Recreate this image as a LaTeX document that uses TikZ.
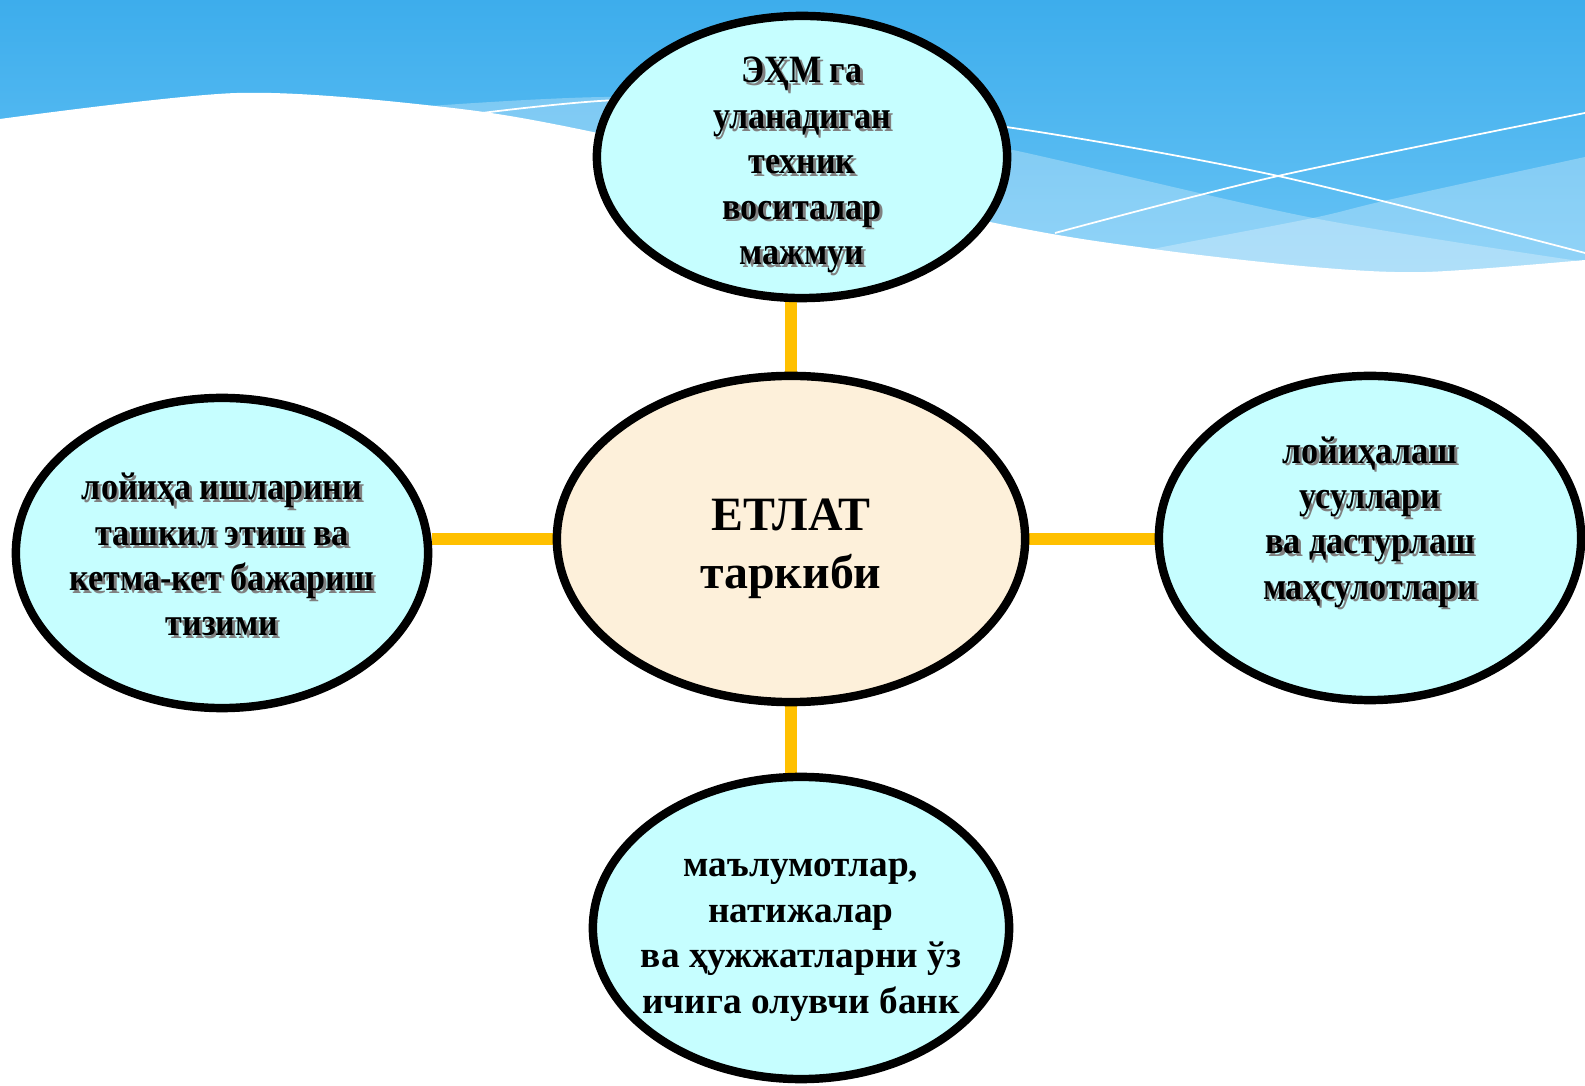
\documentclass[tikz,border=0pt]{standalone}
\usepackage{fontspec}
\setmainfont{Liberation Serif}
\newfontfamily\narrowserif[FakeStretch=0.88]{Liberation Serif}
\usetikzlibrary{shapes.geometric}

\definecolor{skytop}{HTML}{3DADEC}
\definecolor{skybot}{HTML}{6CC6F6}
\definecolor{partfill}{HTML}{C6FEFF}
\definecolor{hubfill}{HTML}{FDF0DA}
\definecolor{linkcol}{HTML}{FFC000}

\pgfdeclarelayer{sky}
\pgfdeclarelayer{links}
\pgfsetlayers{sky,links,main}

% centred lines, no size of their own, lifted by #1
\newcommand\pltext[2]{\makebox[0pt]{\raisebox{#1}[0pt][0pt]{\begin{tabular}{@{}c@{}}#2\end{tabular}}}}
% the same, with a soft grey shadow
\newcommand\shtext[2]{\makebox[0pt]{\raisebox{#1}[0pt][0pt]{%
  \makebox[0pt][l]{\hspace{0.8pt}\raisebox{-0.8pt}{\color{black!50}\begin{tabular}{@{}c@{}}#2\end{tabular}}}%
  \begin{tabular}{@{}c@{}}#2\end{tabular}}}}

\tikzset{
  partbox/.style={ellipse,draw=black,line width=2.4pt,fill=partfill,inner sep=0pt,
    font=\narrowserif\bfseries\fontsize{11}{12.9}\selectfont},
  hubbox/.style={partbox,fill=hubfill,minimum width=4.68cm,minimum height=3.26cm,
    font=\bfseries\fontsize{13.6}{16.5}\selectfont},
  link/.style={linkcol,line width=3.4pt}
}

\begin{document}
\begin{tikzpicture}[x=0.01cm,y=-0.01cm]
\useasboundingbox (0,0) rectangle (1585,1086);

% sky and waves
\begin{pgfonlayer}{sky}
\fill[top color=skytop,bottom color=skybot] (0,0) rectangle (1585,300);
\fill[white,opacity=0.28] plot[smooth] coordinates {(430,106) (620,97) (820,112) (1013,150) (1313,218) (1585,262)}
  -- (1585,300) -- (430,300) -- cycle;
\fill[white,opacity=0.28] plot[smooth] coordinates {(1100,262) (1153,249) (1313,218) (1388,200) (1585,157)}
  -- (1585,300) -- (1100,300) -- cycle;
\draw[white,line width=0.5pt] plot[smooth] coordinates {(482,113) (620,100) (800,105) (1013,128) (1278,176) (1585,253)};
\draw[white,line width=0.5pt] plot[smooth] coordinates {(1055,233) (1278,176) (1585,113)};
\fill[white] plot[smooth] coordinates {(0,119) (237,93) (435,106) (593,132) (990,222) (1153,249) (1313,267) (1426,272) (1585,260)}
  -- (1585,1086) -- (0,1086) -- cycle;
\end{pgfonlayer}

% nodes
\node[hubbox] (etlat) at (791,539) {\pltext{-6.2pt}{ЕТЛАТ\\таркиби}};
\node[partbox,minimum width=4.10cm,minimum height=2.82cm] (ehm) at (802,157)
  {\shtext{-4.9pt}{ЭҲМ га\\уланадиган\\техник\\воситалар\\мажмуи}};
\node[partbox,minimum width=4.12cm,minimum height=3.10cm] (org) at (222,553)
  {\shtext{-4.4pt}{лойиҳа ишларини\\ташкил этиш ва\\кетма-кет бажариш\\тизими}};
\node[partbox,minimum width=4.22cm,minimum height=3.24cm] (meth) at (1370,538)
  {\shtext{1.8pt}{лойиҳалаш\\усуллари\\ва дастурлаш\\маҳсулотлари}};
\node[partbox,minimum width=4.16cm,minimum height=3.02cm,
  font=\bfseries\fontsize{10.6}{12.9}\selectfont] (bank) at (801,928)
  {\pltext{-5pt}{маълумотлар,\\натижалар\\ва ҳужжатларни ўз\\ичига олувчи банк}};

% links
\begin{pgfonlayer}{links}
\draw[link] (etlat.north) -- (etlat.north |- ehm.south);
\draw[link] (etlat.south) -- (etlat.south |- bank.north);
\draw[link] (etlat.west) -- (etlat.west -| org.east);
\draw[link] (etlat.east) -- (etlat.east -| meth.west);
\end{pgfonlayer}
\end{tikzpicture}
\end{document}
